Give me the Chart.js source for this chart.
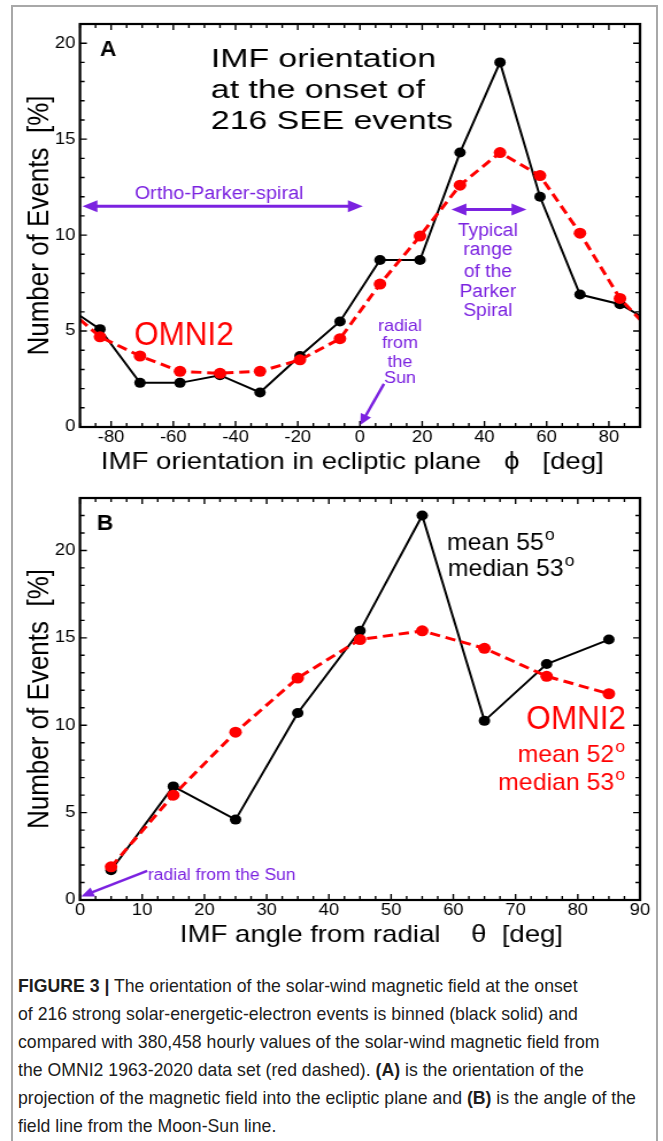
<!DOCTYPE html>
<html>
<head>
<meta charset="utf-8">
<script src="https://cdn.jsdelivr.net/npm/chart.js@4.4.1/dist/chart.umd.min.js"></script>
<style>
  body { margin: 0; background: #fff; width: 663px; height: 1141px; overflow: hidden; position: relative;
         font-family: "Liberation Sans", Arial, sans-serif; }
  #frame { position: absolute; left: 11px; top: 5px; width: 643px; height: 1200px;
           border: 2px solid #a8a8a8; border-bottom: none; }
  .wrap { position: absolute; left: 0; transform-origin: 0 0; transform: scaleX(1.149); }
  .wrap canvas { display: block; }
  #caption { position: absolute; left: 18px; top: 972px; font-size: 19px; line-height: 28px; color: #1e1e1e; }
  #caption div { white-space: nowrap; transform-origin: 0 0; }
</style>
</head>
<body>
<div id="frame"></div>
<div class="wrap" style="top:0"><canvas id="chartA" width="577" height="480"></canvas></div>
<div class="wrap" style="top:480px"><canvas id="chartB" width="577" height="480"></canvas></div>
<div id="caption"></div>

<script>
// panel A: IMF orientation phi, 14 bins of 180/14 deg, line wraps to the edges
const phiA = [-90, -83.57, -70.71, -57.86, -45, -32.14, -19.29, -6.43, 6.43, 19.29, 32.14, 45, 57.86, 70.71, 83.57, 90];
const seeA = [5.8, 5.1, 2.3, 2.3, 2.7, 1.8, 3.7, 5.5, 8.7, 8.7, 14.3, 19.0, 12.0, 6.9, 6.4, 5.8];
const omniA = [5.6, 4.7, 3.7, 2.9, 2.8, 2.9, 3.5, 4.6, 7.45, 9.95, 12.6, 14.3, 13.1, 10.1, 6.7, 5.6];
const xTicksA = [-80, -60, -40, -20, 0, 20, 40, 60, 80];
const yTicksA = [0, 5, 10, 15, 20];

// panel B: angle from radial theta
const thetaB = [5, 15, 25, 35, 45, 55, 65, 75, 85];
const seeB = [1.7, 6.5, 4.6, 10.7, 15.4, 22.0, 10.25, 13.5, 14.9];
const omniB = [1.9, 6.0, 9.6, 12.7, 14.9, 15.4, 14.4, 12.8, 11.8];
const xTicksB = [0, 10, 20, 30, 40, 50, 60, 70, 80, 90];
const yTicksB = [0, 5, 10, 15, 20];

const captionLines = [
  '<b>FIGURE 3 |</b> The orientation of the solar-wind magnetic field at the onset',
  'of 216 strong solar-energetic-electron events is binned (black solid) and',
  'compared with 380,458 hourly values of the solar-wind magnetic field from',
  'the OMNI2 1963-2020 data set (red dashed). <b>(A)</b> is the orientation of the',
  'projection of the magnetic field into the ecliptic plane and <b>(B)</b> is the angle of the',
  'field line from the Moon-Sun line.'
];

const FONT = '"Liberation Sans", Arial, sans-serif';
const PURPLE = '#7b22e0';
const RED = '#ff0000';
Chart.defaults.font.family = FONT;
Chart.defaults.color = '#000';

function pts(xs, ys) {
  return xs.map((x, i) => ({ x: x, y: ys[i] }));
}

// inward ticks on all four sides + thick box
const frameTicks = {
  id: 'frameTicks',
  afterDatasetsDraw(chart, args, o) {
    const { ctx, chartArea: a, scales: { x, y } } = chart;
    const major = (s, v) => s.ticks.some(t => Math.abs(t.value - v) < 1e-6);
    ctx.save();
    ctx.strokeStyle = '#000';
    ctx.lineWidth = 1.4;
    ctx.beginPath();
    for (let v = x.min; v <= x.max + 1e-6; v += o.xMinor) {
      const px = x.getPixelForValue(v), len = major(x, v) ? 6 : 4;
      ctx.moveTo(px, a.bottom); ctx.lineTo(px, a.bottom - len);
      ctx.moveTo(px, a.top); ctx.lineTo(px, a.top + len);
    }
    for (let v = y.min; v <= y.max + 1e-6; v += o.yMinor) {
      const py = y.getPixelForValue(v), len = major(y, v) ? 6 : 4;
      ctx.moveTo(a.left, py); ctx.lineTo(a.left + len, py);
      ctx.moveTo(a.right, py); ctx.lineTo(a.right - len, py);
    }
    ctx.stroke();
    ctx.lineWidth = 2.2;
    ctx.strokeRect(a.left, a.top, a.right - a.left, a.bottom - a.top);
    ctx.restore();
  }
};

function head(ctx, x, y, ang, L, H) {
  ctx.beginPath();
  ctx.moveTo(x, y);
  ctx.lineTo(x - L * Math.cos(ang) + H * Math.sin(ang), y - L * Math.sin(ang) - H * Math.cos(ang));
  ctx.lineTo(x - L * Math.cos(ang) - H * Math.sin(ang), y - L * Math.sin(ang) + H * Math.cos(ang));
  ctx.closePath();
  ctx.fill();
}

// text and arrows placed in data coordinates
const notes = {
  id: 'notes',
  afterDatasetsDraw(chart, args, o) {
    const { ctx, scales: { x, y } } = chart;
    ctx.save();
    (o.arrows || []).forEach(r => {
      const x1 = x.getPixelForValue(r.from[0]), y1 = y.getPixelForValue(r.from[1]);
      const x2 = x.getPixelForValue(r.to[0]), y2 = y.getPixelForValue(r.to[1]);
      const ang = Math.atan2(y2 - y1, x2 - x1), c = Math.cos(ang), s = Math.sin(ang);
      const L = r.len || 13, H = r.half || 6;
      ctx.strokeStyle = r.color; ctx.fillStyle = r.color; ctx.lineWidth = r.width || 3;
      ctx.beginPath();
      ctx.moveTo(r.both ? x1 + c * L * 0.7 : x1, r.both ? y1 + s * L * 0.7 : y1);
      ctx.lineTo(x2 - c * L * 0.7, y2 - s * L * 0.7);
      ctx.stroke();
      head(ctx, x2, y2, ang, L, H);
      if (r.both) head(ctx, x1, y1, ang + Math.PI, L, H);
    });
    (o.texts || []).forEach(t => {
      const f = (t.bold ? 'bold ' : '') + t.size + 'px ' + FONT;
      const supF = Math.round(t.size * 0.72) + 'px ' + FONT;
      const sx = t.sx || 1;
      ctx.font = f;
      const w = ctx.measureText(t.text).width * sx;
      let sw = 0;
      if (t.sup) {
        ctx.font = supF;
        sw = ctx.measureText(t.sup).width * sx + 1;
      }
      let px = x.getPixelForValue(t.at[0]);
      const py = y.getPixelForValue(t.at[1]);
      if (t.align === 'center') px -= (w + sw) / 2;
      else if (t.align === 'right') px -= (w + sw);
      ctx.fillStyle = t.color || '#000';
      ctx.textAlign = 'left';
      ctx.textBaseline = 'alphabetic';
      ctx.save();
      ctx.translate(px, py);
      ctx.scale(sx, 1);
      ctx.font = f;
      ctx.fillText(t.text, 0, 0);
      ctx.restore();
      if (t.sup) {
        ctx.save();
        ctx.translate(px + w + 1, py - t.size * 0.42);
        ctx.scale(sx, 1);
        ctx.font = supF;
        ctx.fillText(t.sup, 0, 0);
        ctx.restore();
      }
    });
    ctx.restore();
  }
};

function axis(opts) {
  return {
    type: 'linear',
    min: opts.min,
    max: opts.max,
    afterBuildTicks: s => { s.ticks = opts.ticks.map(v => ({ value: v })); },
    afterFit: opts.fit,
    grid: { display: false, drawTicks: false },
    border: { display: false },
    ticks: { font: { size: 16 }, color: '#000', padding: opts.pad, maxRotation: 0, autoSkip: false },
    title: { display: true, text: opts.title, color: '#000', font: { size: opts.tsize }, padding: opts.tpad }
  };
}

function lines(xs, black, red, edges) {
  const last = xs.length - 1;
  const r = (size) => (c) => (edges && (c.dataIndex === 0 || c.dataIndex === last)) ? 0 : size;
  return [
    { data: pts(xs, red), borderColor: RED, backgroundColor: RED, borderWidth: 3, borderDash: [9, 5],
      pointRadius: r(5.5), pointBorderWidth: 0, tension: 0 },
    { data: pts(xs, black), borderColor: '#000', backgroundColor: '#000', borderWidth: 2,
      pointRadius: r(5), pointBorderWidth: 0, tension: 0 }
  ];
}

new Chart(document.getElementById('chartA'), {
  type: 'line',
  data: { datasets: lines(phiA, seeA, omniA, true) },
  options: {
    responsive: false,
    animation: false,
    layout: { padding: { top: 24, right: 20, left: 0, bottom: 0 } },
    scales: {
      x: axis({ min: -90, max: 90, ticks: xTicksA, fit: s => { s.height = 53; }, pad: 1,
                title: 'IMF orientation in ecliptic plane   \u03d5   [deg]  ', tsize: 24, tpad: { top: 0, bottom: 3 } }),
      y: axis({ min: 0, max: 21, ticks: yTicksA, fit: s => { s.width = 69.6; }, pad: 4,
                title: 'Number of Events  [%]', tsize: 26, tpad: { top: 19, bottom: 0 } })
    },
    plugins: {
      legend: { display: false },
      tooltip: { enabled: false },
      frameTicks: { xMinor: 5, yMinor: 1 },
      notes: {
        arrows: [
          { from: [-89.2, 11.5], to: [0.9, 11.5], both: true, color: PURPLE, width: 3 },
          { from: [29.4, 11.34], to: [53.5, 11.34], both: true, color: PURPLE, width: 3 },
          { from: [7.7, 2.25], to: [0.1, 0.1], color: PURPLE, width: 2.5, len: 11, half: 5 }
        ],
        texts: [
          { text: 'A', at: [-83.6, 19.34], size: 22, bold: true, sx: 0.9 },
          { text: 'IMF orientation', at: [-47.9, 18.76], size: 26, sx: 1.13 },
          { text: 'at the onset of', at: [-47.9, 17.14], size: 26, sx: 1.13 },
          { text: '216 SEE events', at: [-47.9, 15.52], size: 26, sx: 1.13 },
          { text: 'Ortho-Parker-spiral', at: [-45.3, 11.86], size: 18, sx: 0.96, align: 'center', color: PURPLE },
          { text: 'Typical', at: [41.1, 9.95], size: 18, sx: 0.93, align: 'center', color: PURPLE },
          { text: 'range', at: [41.1, 8.94], size: 18, sx: 0.93, align: 'center', color: PURPLE },
          { text: 'of the', at: [41.1, 7.80], size: 18, sx: 0.93, align: 'center', color: PURPLE },
          { text: 'Parker', at: [41.1, 6.76], size: 18, sx: 0.93, align: 'center', color: PURPLE },
          { text: 'Spiral', at: [41.1, 5.80], size: 18, sx: 0.93, align: 'center', color: PURPLE },
          { text: 'radial', at: [12.86, 4.98], size: 17, sx: 0.92, align: 'center', color: PURPLE },
          { text: 'from', at: [12.86, 4.11], size: 17, sx: 0.92, align: 'center', color: PURPLE },
          { text: 'the', at: [12.86, 3.15], size: 17, sx: 0.92, align: 'center', color: PURPLE },
          { text: 'Sun', at: [12.86, 2.28], size: 17, sx: 0.92, align: 'center', color: PURPLE },
          { text: 'OMNI2', at: [-72.6, 4.29], size: 33, sx: 0.83, color: RED }
        ]
      }
    }
  },
  plugins: [frameTicks, notes]
});

new Chart(document.getElementById('chartB'), {
  type: 'line',
  data: { datasets: lines(thetaB, seeB, omniB, false) },
  options: {
    responsive: false,
    animation: false,
    layout: { padding: { top: 18, right: 20, left: 0, bottom: 0 } },
    scales: {
      x: axis({ min: 0, max: 90, ticks: xTicksB, fit: s => { s.height = 60; }, pad: 1,
                title: '   IMF angle from radial    \u03b8  [deg]', tsize: 24, tpad: { top: 0, bottom: 10 } }),
      y: axis({ min: 0, max: 23, ticks: yTicksB, fit: s => { s.width = 69.6; }, pad: 4,
                title: 'Number of Events  [%]', tsize: 26, tpad: { top: 19, bottom: 0 } })
    },
    plugins: {
      legend: { display: false },
      tooltip: { enabled: false },
      frameTicks: { xMinor: 2.5, yMinor: 1 },
      notes: {
        arrows: [
          { from: [10.8, 1.67], to: [0.2, 0.2], color: PURPLE, width: 2.5, len: 11, half: 5 }
        ],
        texts: [
          { text: 'B', at: [2.7, 21.17], size: 22, bold: true, sx: 0.9 },
          { text: 'mean 55', sup: 'o', at: [59.0, 20.02], size: 24, sx: 0.9 },
          { text: 'median 53', sup: 'o', at: [59.1, 18.52], size: 24, sx: 0.9 },
          { text: 'OMNI2', at: [87.75, 9.78], size: 33, sx: 0.83, align: 'right', color: RED },
          { text: 'mean 52', sup: 'o', at: [87.6, 7.88], size: 24, sx: 0.9, align: 'right', color: RED },
          { text: 'median 53', sup: 'o', at: [87.6, 6.27], size: 24, sx: 0.9, align: 'right', color: RED },
          { text: 'radial from the Sun', at: [10.93, 1.15], size: 16, sx: 0.95, color: PURPLE }
        ]
      }
    }
  },
  plugins: [frameTicks, notes]
});

// caption, each line fitted to the width it has in the figure (never stretched wider)
const captionWidths = [562, 596, 602, 571, 621, 323];
const cap = document.getElementById('caption');
captionLines.forEach((html, i) => {
  const d = document.createElement('div');
  const s = document.createElement('span');
  s.innerHTML = html;
  d.appendChild(s);
  cap.appendChild(d);
  const w = s.getBoundingClientRect().width;
  d.style.transform = 'scaleX(' + Math.min(0.93, captionWidths[i] / w) + ')';
});
</script>
</body>
</html>
